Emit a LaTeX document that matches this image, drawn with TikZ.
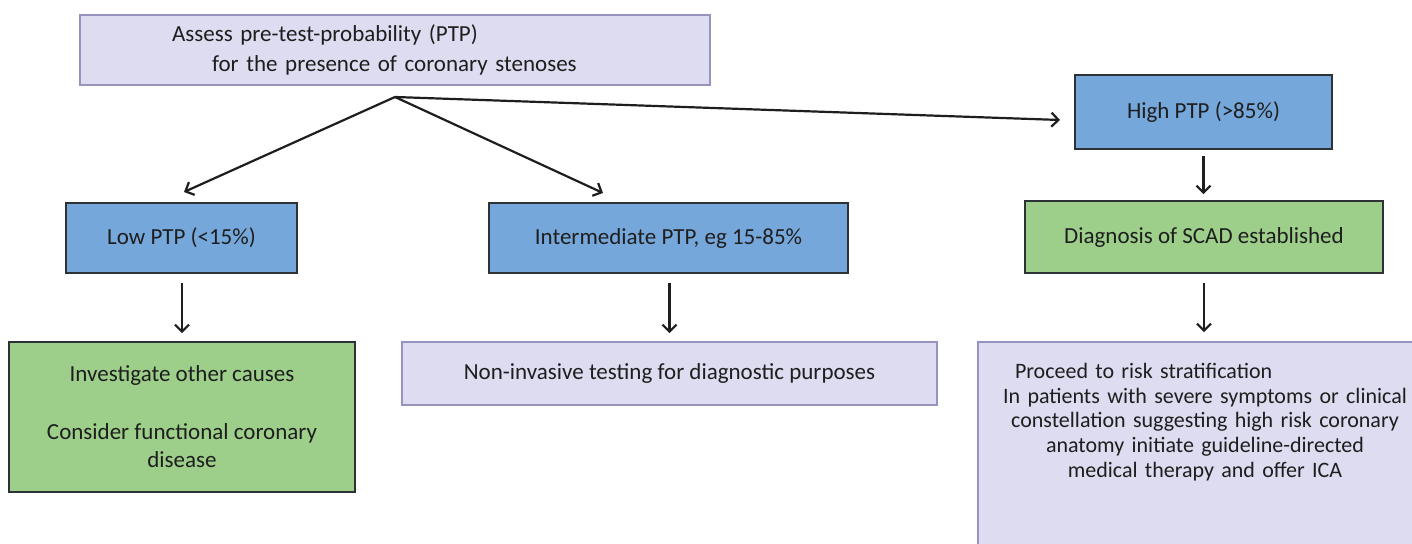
\documentclass[tikz,border=0pt]{standalone}
\usepackage{fontspec}
\setmainfont{Carlito}
\usetikzlibrary{arrows.meta,calc}
\definecolor{lavfill}{RGB}{221,220,240}
\definecolor{lavdraw}{RGB}{150,148,190}
\definecolor{bluefill}{RGB}{118,167,219}
\definecolor{greenfill}{RGB}{157,207,139}
\definecolor{darkdraw}{RGB}{45,50,55}
\definecolor{txt}{RGB}{30,30,30}
\begin{document}
\begin{tikzpicture}[x=0.5pt,y=-0.5pt,
  box/.style={draw, line width=0.8pt, inner sep=0pt, font=\fontsize{11.5}{14}\selectfont, text=txt, align=center},
  lav/.style={box, fill=lavfill, draw=lavdraw},
  bluebox/.style={box, fill=bluefill, draw=darkdraw},
  greenbox/.style={box, fill=greenfill, draw=darkdraw},
  arr/.style={-{Straight Barb[length=3.5pt,width=7pt,line width=1.1pt]}, line width=1.1pt, draw=txt}]
\useasboundingbox (0,0) rectangle (1412,544);
\clip (0,0) rectangle (1412,544);
\fill[white] (0,0) rectangle (1412,544);

\node[lav, minimum width=315pt, minimum height=35pt, text width=315pt, align=left,
  font=\fontsize{11.5}{15}\selectfont] (top) at (395,50)
  {\hspace*{46pt}Assess pre-test-probability (PTP)\\\hspace*{66pt}for the presence of coronary stenoses};

\node[bluebox, minimum width=115.5pt, minimum height=35pt] (low) at (181.5,238) {Low PTP (<15\%)};
\node[bluebox, minimum width=179.5pt, minimum height=35pt] (inter) at (668.5,238) {Intermediate PTP, eg 15-85\%};
\node[bluebox, minimum width=128.5pt, minimum height=37pt] (high) at (1203.5,112) {High PTP (>85\%)};
\node[greenbox, minimum width=179pt, minimum height=36pt] (diag) at (1204,237) {Diagnosis of SCAD established};

\node[greenbox, minimum width=173pt, minimum height=75pt] (invest) at (182,417)
  {Investigate other causes\\[15pt]Consider functional coronary\\disease};
\node[lav, minimum width=267.5pt, minimum height=31.5pt] (noninv) at (669.5,373.5)
  {Non-invasive testing for diagnostic purposes};

\node[lav, minimum width=226pt, minimum height=109pt] (risk) at (1204,451) {};
\node[box, draw=none, text width=205pt, font=\fontsize{11}{12.3}\selectfont] (risktxt) at (1205,422)
  {\makebox[\linewidth][l]{\hspace*{7.5pt}Proceed to risk stratification}\\
   In patients with severe symptoms or clinical\\constellation suggesting high risk coronary\\anatomy initiate guideline-directed\\medical therapy and offer ICA};

\coordinate (apex) at (395,97);
\coordinate (lowtip) at (184,192);
\coordinate (intertip) at (603,193);
\coordinate (hightip) at (1060,120);
\draw[arr] (apex) -- (lowtip);
\draw[arr] (apex) -- (intertip);
\draw[arr] (apex) -- (hightip);

\draw[arr, shorten <=4.5pt, shorten >=4pt] (low.south -| invest.north) -- (invest.north);
\draw[arr, shorten <=4.5pt, shorten >=4pt] (inter.south -| noninv.north) -- (noninv.north);
\draw[arr, shorten <=3pt, shorten >=3pt] (high.south) -- (diag.north -| high.south);
\draw[arr, shorten <=4.5pt, shorten >=4.5pt] (diag.south) -- (risk.north);
\end{tikzpicture}
\end{document}
